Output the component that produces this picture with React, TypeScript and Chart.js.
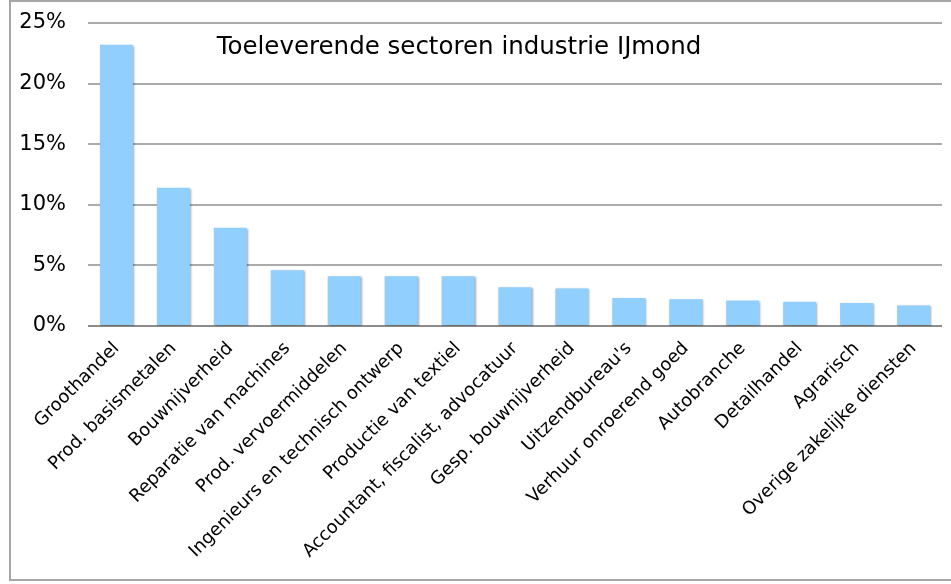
import React, { useEffect, useRef } from "react";
import { Chart, registerables } from "chart.js";

Chart.register(...registerables);

const categories = [
  "Groothandel",
  "Prod. basismetalen",
  "Bouwnijverheid",
  "Reparatie van machines",
  "Prod. vervoermiddelen",
  "Ingenieurs en technisch ontwerp",
  "Productie van textiel",
  "Accountant, fiscalist, advocatuur",
  "Gesp. bouwnijverheid",
  "Uitzendbureau's",
  "Verhuur onroerend goed",
  "Autobranche",
  "Detailhandel",
  "Agrarisch",
  "Overige zakelijke diensten",
];

const shares = [23.2, 11.4, 8.1, 4.6, 4.1, 4.1, 4.1, 3.2, 3.1, 2.3, 2.2, 2.1, 2.0, 1.9, 1.7];

const yMin = 0;
const yMax = 25;
const yStep = 5;

const chartTitle = "Toeleverende sectoren industrie IJmond";

const FONT = "'DejaVu Sans', Verdana, sans-serif";

export default function App() {
  const ref = useRef<HTMLCanvasElement | null>(null);

  useEffect(() => {
    if (!ref.current) return;

    const frame = {
      id: "frame",
      afterDraw(chart: any) {
        const ctx = chart.ctx;
        ctx.save();
        ctx.strokeStyle = "#a6a6a6";
        ctx.lineWidth = 2;
        ctx.strokeRect(10, 1, 980, 579);
        ctx.restore();
      },
    };

    const titleInside = {
      id: "titleInside",
      afterDraw(chart: any) {
        const ctx = chart.ctx;
        ctx.save();
        ctx.fillStyle = "#000";
        ctx.font = `24.5px ${FONT}`;
        ctx.textAlign = "center";
        ctx.textBaseline = "middle";
        ctx.fillText(chartTitle, 459, 48);
        ctx.restore();
      },
    };

    const barShadow = {
      id: "barShadow",
      beforeDatasetsDraw(chart: any) {
        const ctx = chart.ctx;
        ctx.save();
        ctx.shadowColor = "rgba(0,0,0,0.35)";
        ctx.shadowBlur = 2;
        ctx.shadowOffsetX = 1;
        ctx.shadowOffsetY = 1;
      },
      afterDatasetsDraw(chart: any) {
        chart.ctx.restore();
      },
    };

    const chart = new Chart(ref.current, {
      type: "bar",
      data: {
        labels: categories,
        datasets: [
          {
            data: shares,
            backgroundColor: "rgb(145, 207, 255)",
            borderWidth: 0,
            categoryPercentage: 1,
            barPercentage: 0.58,
          },
        ],
      },
      options: {
        responsive: false,
        animation: false,
        devicePixelRatio: 1,
        layout: { padding: { top: 23, right: 9, left: 0, bottom: 0 } },
        plugins: {
          legend: { display: false },
          tooltip: { enabled: false },
          title: { display: false },
        },
        scales: {
          x: {
            grid: { display: false },
            border: { display: false },
            ticks: {
              color: "#000",
              font: { family: FONT, size: 18 },
              minRotation: 45,
              maxRotation: 45,
              autoSkip: false,
              padding: 4,
            },
            afterFit(scale: any) {
              scale.height = 258;
              scale.paddingLeft = 0;
              scale.paddingRight = 0;
              scale.paddingTop = 0;
            },
          },
          y: {
            min: yMin,
            max: yMax,
            border: { display: false },
            grid: {
              drawTicks: false,
              lineWidth: 2,
              color: (c: any) => (c.tick && c.tick.value === 0 ? "#8c8c8c" : "#ababab"),
            },
            ticks: {
              stepSize: yStep,
              color: "#000",
              padding: 22,
              font: { family: FONT, size: 21 },
              callback: (v: any) => `${v}%`,
            },
            afterFit(scale: any) {
              scale.width = 88;
              scale.paddingTop = 0;
              scale.paddingBottom = 0;
            },
          },
        },
      },
      plugins: [barShadow, titleInside, frame],
    });

    return () => chart.destroy();
  }, []);

  return (
    <div style={{ position: "absolute", left: 0, top: 0, width: 951, height: 584 }}>
      <canvas ref={ref} width={951} height={584} />
    </div>
  );
}
